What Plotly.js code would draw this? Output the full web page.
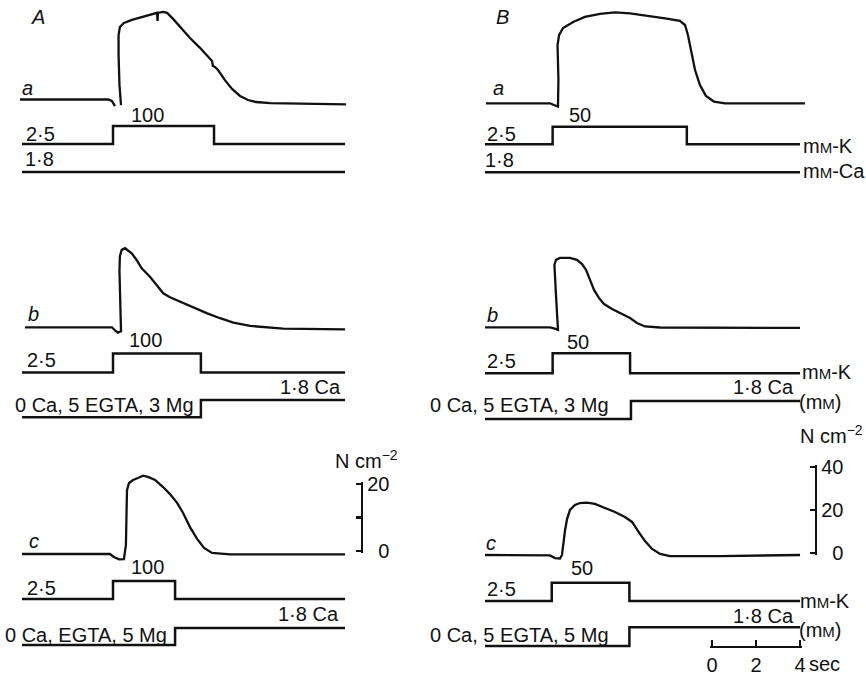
<!DOCTYPE html>
<html><head><meta charset="utf-8">
<script src="https://cdn.plot.ly/plotly-3.0.1.min.js"></script>
<style>html,body{margin:0;padding:0;background:#fff}#chart{width:866px;height:677px}</style>
</head><body><div id="chart"></div>
<script>
// ---------------- DATA (time in s, force in N cm^-2, concentrations in mM) ----------------
const forceA_a_time  = [0, 3.96, 4.13, 4.27, null, 4.54, 4.47, 4.43, 4.43, 4.49, 4.67, 5.03, 5.48, 5.84, 6.07, 6.16, 6.18, 6.2, 6.43, 6.61, 6.88, 7.19, 7.64, 8.09, 8.45, 8.63, 8.67, 8.76, 8.9, 9.21, 9.53, 9.89, 10.25, 10.61, 11.24, 12.58, 14.65];
const forceA_a_value = [0.15, 0.15, -0.3, -1.8, null, -1.5, 4.5, 13.4, 19.3, 21.7, 22.9, 23.8, 24.7, 25.3, 25.7, 25.9, 23.5, 25.9, 26.2, 25.9, 24.1, 21.7, 18.4, 15.5, 13.1, 11.6, 10.1, 9.8, 8.9, 5.9, 3.3, 1.2, 0, -0.6, -0.9, -1.0, -1.3];
const forceA_b_time  = [0.22, 4.13, 4.27, 4.4, 4.54, 4.49, 4.47, 4.49, 4.57, 4.72, 5.02, 5.24, 5.47, 5.62, 5.84, 6.14, 6.44, 6.74, 7.19, 7.79, 8.39, 8.99, 9.59, 10.34, 11.09, 11.83, 14.61];
const forceA_b_value = [0, 0, -0.9, -1.6, -1.2, 8.0, 16.9, 21.1, 23.0, 23.5, 22.0, 20.0, 17.5, 16.5, 15.0, 12.6, 10.1, 8.9, 7.6, 5.9, 4.2, 2.7, 1.4, 0.4, -0.1, -0.4, -0.6];
const forceA_c_time  = [0.09, 4.04, 4.22, 4.45, 4.67, 4.76, 4.79, 4.81, 4.9, 5.08, 5.3, 5.53, 5.75, 6.07, 6.43, 6.74, 7.06, 7.33, 7.64, 7.96, 8.27, 8.63, 9.44, 14.61];
const forceA_c_value = [0, 0, -0.9, -1.6, -1.5, 2.7, 13.1, 19.0, 21.1, 22.0, 22.6, 23.3, 22.9, 22.0, 19.9, 17.8, 15.2, 12.2, 8.0, 4.5, 1.8, 0.3, -0.1, -0.1];
const forceB_a_time  = [0.04, 2.92, 3.1, 3.28, 3.3, 3.26, 3.33, 3.51, 3.96, 4.49, 5.17, 5.84, 6.52, 7.19, 8.09, 8.76, 8.99, 9.12, 9.26, 9.44, 9.66, 9.93, 10.29, 10.79, 14.38];
const forceB_a_value = [0, 0, -0.8, -1.5, 10.7, 26.8, 31.4, 34.6, 37.4, 39.7, 41.1, 41.8, 41.3, 40.4, 39.0, 37.9, 36.0, 31.4, 24.5, 15.3, 8.4, 3.4, 0.8, 0, 0];
const forceB_b_time  = [0, 2.92, 3.1, 3.28, 3.19, 3.12, 3.19, 3.37, 3.82, 4.13, 4.36, 4.54, 4.72, 4.9, 5.12, 5.35, 5.71, 6.16, 6.52, 6.83, 7.19, 7.87, 14.16];
const forceB_b_value = [0, 0, -0.5, -1.2, 14.9, 28.7, 31.0, 31.9, 31.9, 31.0, 29.1, 26.4, 21.8, 17.2, 13.5, 10.7, 8.4, 6.1, 4.3, 2.0, 0.4, -0.1, -0.3];
const forceB_c_time  = [0, 2.92, 3.15, 3.37, 3.46, 3.51, 3.6, 3.69, 3.82, 4.04, 4.27, 4.58, 4.94, 5.39, 5.84, 6.29, 6.61, 6.88, 7.19, 7.51, 7.87, 8.31, 10.56, 14.16];
const forceB_c_value = [0, -0.2, -1.4, -1.6, 0, 4.6, 11.5, 16.6, 20.7, 23.0, 23.9, 24.1, 23.5, 21.6, 19.8, 17.5, 15.2, 11.0, 6.4, 2.8, 0.5, -0.5, -0.5, 0];

const kA_a_time = [0.09, 4.18, 4.18, 8.72, 8.72, 14.61];
const kA_b_time = [0.09, 4.18, 4.18, 8.13, 8.13, 14.61];
const kA_c_time = [0.09, 4.18, 4.18, 6.97, 6.97, 14.61];
const kB_a_time = [0, 3.04, 3.04, 9.07, 9.07, 14.16];
const kB_b_time = [0, 3.04, 3.04, 6.52, 6.52, 14.16];
const kB_c_time = [0, 3.0, 3.0, 6.49, 6.49, 14.16];
const kPulseA = 100, kPulseB = 50, kRest = 2.5;
const kA_level = [kRest, kRest, kPulseA, kPulseA, kRest, kRest];
const kB_level = [kRest, kRest, kPulseB, kPulseB, kRest, kRest];

const caA_a_time = [0.09, 14.61],             caA_a_level = [1.8, 1.8];
const caA_b_time = [0.09, 8.13, 8.13, 14.61], caA_b_level = [0, 0, 1.8, 1.8];
const caA_c_time = [0.09, 6.97, 6.97, 14.61], caA_c_level = [0, 0, 1.8, 1.8];
const caB_a_time = [0, 14.16],                caB_a_level = [1.8, 1.8];
const caB_b_time = [0, 6.56, 6.56, 14.16],    caB_b_level = [0, 0, 1.8, 1.8];
const caB_c_time = [0, 6.49, 6.49, 14.16],    caB_c_level = [0, 0, 1.8, 1.8];

const scaleA_ticks = [0, 10, 20], scaleA_text = ['\u20070', '', '20'];
const scaleB_ticks = [0, 20, 40], scaleB_text = ['\u20070', '20', '40'];
const time_ticks = [0, 2, 4], time_text = ['0', '2', '4'];
const rowLabels = ['a', 'b', 'c'];
const solutionsA = ['0 Ca, 5 EGTA, 3 Mg', '0 Ca, EGTA, 5 Mg'];
const solutionsB = ['0 Ca, 5 EGTA, 3 Mg', '0 Ca, 5 EGTA, 5 Mg'];

// ---------------- LAYOUT HELPERS ----------------
const W = 866, H = 677;
const px = p => p / W;
const py = p => 1 - p / H;
function mapAxis(p1, v1, p2, v2, pb, pt, anchor) {
  const s = (v2 - v1) / (p2 - p1);
  return {domain: [py(pb), py(pt)], range: [v1 + (pb - p1) * s, v1 + (pt - p1) * s],
          anchor: anchor, visible: false, showgrid: false, zeroline: false, fixedrange: true};
}
const FA = 67.3 / 20, FB = 87 / 40; // px per N cm^-2
const geom = [
  {xa: 'x',  fBase: 100,   fPx: FA, kLo: 144,   kHi: 126,   kTop: kPulseA, caZero: 189,   caHigh: 172},
  {xa: 'x',  fBase: 327.3, fPx: FA, kLo: 372.5, kHi: 353.5, kTop: kPulseA, caZero: 417.3, caHigh: 400},
  {xa: 'x',  fBase: 554,   fPx: FA, kLo: 599,   kHi: 581,   kTop: kPulseA, caZero: 645,   caHigh: 628},
  {xa: 'x2', fBase: 103.3, fPx: FB, kLo: 144.3, kHi: 126.7, kTop: kPulseB, caZero: 189.3, caHigh: 172.3},
  {xa: 'x2', fBase: 327.3, fPx: FB, kLo: 373.3, kHi: 353.3, kTop: kPulseB, caZero: 419,   caHigh: 401},
  {xa: 'x2', fBase: 555,   fPx: FB, kLo: 601,   kHi: 582.7, kTop: kPulseB, caZero: 646,   caHigh: 627.3}
];
const forceT = [forceA_a_time, forceA_b_time, forceA_c_time, forceB_a_time, forceB_b_time, forceB_c_time];
const forceV = [forceA_a_value, forceA_b_value, forceA_c_value, forceB_a_value, forceB_b_value, forceB_c_value];
const kT = [kA_a_time, kA_b_time, kA_c_time, kB_a_time, kB_b_time, kB_c_time];
const kV = [kA_level, kA_level, kA_level, kB_level, kB_level, kB_level];
const caT = [caA_a_time, caA_b_time, caA_c_time, caB_a_time, caB_b_time, caB_c_time];
const caV = [caA_a_level, caA_b_level, caA_c_level, caB_a_level, caB_b_level, caB_c_level];

const INK = '#111';
const FS = 20;
const FONT = 'Liberation Sans, Arial, Helvetica, sans-serif';
const EP = 1.6; // px of padding so that end ticks are kept
// scale bar axes (value at pixel): A 0@551, 20@484 ; B 0@553, 40@467 ; time 0@712, 4@800
const scaleAx = (p0, p1, v1, extra) => {
  const s = v1 / (p0 - p1);
  return Object.assign({domain: [py(p0 + EP), py(p1 - EP)], range: [-EP * s, v1 + EP * s]}, extra);
};
const scaleStyle = {side: 'right', showline: true, linecolor: INK, linewidth: 2.2, ticks: 'inside', ticklen: 5, tickwidth: 2.2,
  tickcolor: INK, tickfont: {size: FS, color: INK}, showgrid: false, zeroline: false, fixedrange: true};
const tSec = 4 / (800 - 712);
const layout = {
  width: W, height: H, margin: {l: 0, r: 0, t: 0, b: 0},
  paper_bgcolor: '#fff', plot_bgcolor: 'rgba(0,0,0,0)', showlegend: false,
  font: {family: FONT, size: FS, color: INK},
  xaxis:  {domain: [px(20), px(361)], range: [0, 341 / 22.25], anchor: 'y', visible: false, fixedrange: true},
  xaxis2: {domain: [px(485), px(815)], range: [0, 330 / 22.25], anchor: 'y4', visible: false, fixedrange: true},
  xaxis3: {domain: [px(712 - EP), px(800 + EP)], range: [-EP * tSec, 4 + EP * tSec], anchor: 'y21', side: 'bottom',
           showline: true, linecolor: INK, linewidth: 2.2,
           ticks: 'inside', ticklen: 6, tickwidth: 2.2, tickcolor: INK, tickvals: time_ticks, ticktext: time_text,
           tickfont: {size: FS, color: INK}, showgrid: false, zeroline: false, fixedrange: true},
  yaxis21: {domain: [py(646), py(630)], range: [0, 1], anchor: 'x3', visible: false, fixedrange: true},
  yaxis19: scaleAx(551, 484, 20, Object.assign({anchor: 'x', tickvals: scaleA_ticks, ticktext: scaleA_text}, scaleStyle)),
  yaxis20: scaleAx(553, 467, 40, Object.assign({anchor: 'x2', tickvals: scaleB_ticks, ticktext: scaleB_text}, scaleStyle)),
  annotations: []
};
const traces = [];
geom.forEach((g, i) => {
  const fy = 'yaxis' + (i === 0 ? '' : i + 1);
  layout[fy] = mapAxis(g.fBase, 0, g.fBase - 20 * g.fPx, 20, g.fBase + 15, g.fBase - 100, g.xa);
  layout['yaxis' + (i + 7)] = mapAxis(g.kLo, kRest, g.kHi, g.kTop, g.kLo + 8, g.kHi - 8, g.xa);
  layout['yaxis' + (i + 13)] = mapAxis(g.caZero, 0, g.caHigh, 1.8, g.caZero + 8, g.caHigh - 8, g.xa);
  traces.push({x: forceT[i], y: forceV[i], xaxis: g.xa, yaxis: 'y' + (i === 0 ? '' : i + 1), mode: 'lines',
               line: {color: INK, width: 2.3}, hoverinfo: 'skip', connectgaps: false});
  traces.push({x: kT[i], y: kV[i], xaxis: g.xa, yaxis: 'y' + (i + 7), mode: 'lines', line: {color: INK, width: 2.5}, hoverinfo: 'skip'});
  traces.push({x: caT[i], y: caV[i], xaxis: g.xa, yaxis: 'y' + (i + 13), mode: 'lines', line: {color: INK, width: 2.5}, hoverinfo: 'skip'});
});
traces.push({x: [], y: [], xaxis: 'x', yaxis: 'y19', mode: 'lines'});
traces.push({x: [], y: [], xaxis: 'x2', yaxis: 'y20', mode: 'lines'});
traces.push({x: [], y: [], xaxis: 'x3', yaxis: 'y21', mode: 'lines'});

function T(text, x, y, opt) {
  layout.annotations.push(Object.assign({text: text, x: px(x), y: py(y), xref: 'paper', yref: 'paper', showarrow: false,
    xanchor: 'center', yanchor: 'middle', font: {family: FONT, size: FS, color: INK}}, opt || {}));
}
const mM = 'm<span style="font-size:15px">M</span>';
// column A
T('<i>A</i>', 38, 17);
T('<i>' + rowLabels[0] + '</i>', 27, 88);
T('<i>' + rowLabels[1] + '</i>', 33, 314);
T('<i>' + rowLabels[2] + '</i>', 34, 541);
[115, 340, 567].forEach((y, j) => T(String(kPulseA), [147, 145, 147][j], y));
[134, 360, 588].forEach((y, j) => T('2·5', [40, 41, 41][j], y));
T('1·8', 39, 159);
T('1·8 Ca', 343, 387, {xanchor: 'right'});
T('1·8 Ca', 341, 614, {xanchor: 'right'});
T(solutionsA[0], 13, 405, {xanchor: 'left'});
T(solutionsA[1], 3, 635, {xanchor: 'left'});
T('N cm<sup>−2</sup>', 366, 459);
// column B
T('<i>B</i>', 502, 17);
T('<i>' + rowLabels[0] + '</i>', 498, 88);
T('<i>' + rowLabels[1] + '</i>', 492, 315);
T('<i>' + rowLabels[2] + '</i>', 491, 543);
[115, 342, 568].forEach((y, j) => T(String(kPulseB), [580, 578, 582][j], y));
[134, 361, 589].forEach((y, j) => T('2·5', 501, y));
T('1·8', 500, 160);
T(mM + '-K', 801, 146, {xanchor: 'left'});
T(mM + '-Ca', 801, 171, {xanchor: 'left'});
T(mM + '-K', 800, 372, {xanchor: 'left'});
T(mM + '-K', 798, 601, {xanchor: 'left'});
T('1·8 Ca', 796, 387, {xanchor: 'right'});
T('1·8 Ca', 796, 616, {xanchor: 'right'});
T('(' + mM + ')', 797, 402, {xanchor: 'left'});
T('(' + mM + ')', 797, 630, {xanchor: 'left'});
T(solutionsB[0], 428, 405, {xanchor: 'left'});
T(solutionsB[1], 428, 635, {xanchor: 'left'});
T('N cm<sup>−2</sup>', 831, 434);
T('sec', 824, 664);

Plotly.newPlot('chart', traces, layout, {staticPlot: true, displayModeBar: false});
</script>
</body></html>
